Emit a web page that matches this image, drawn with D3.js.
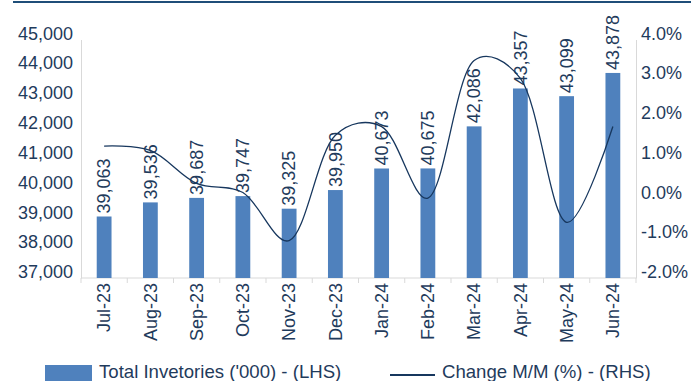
<!DOCTYPE html>
<html>
<head>
<meta charset="utf-8">
<script src="https://cdn.jsdelivr.net/npm/d3@7"></script>
<style>
  html, body { margin: 0; padding: 0; background: #ffffff; }
  svg { display: block; font-family: "Liberation Sans", Arial, sans-serif; }
</style>
</head>
<body>
<svg id="chart" width="691" height="381"></svg>
<script>
// Monthly inventory levels and month-on-month change
const months = ["Jul-23", "Aug-23", "Sep-23", "Oct-23", "Nov-23", "Dec-23",
                "Jan-24", "Feb-24", "Mar-24", "Apr-24", "May-24", "Jun-24"];
const inventories = [39063, 39536, 39687, 39747, 39325, 39950,
                     40673, 40675, 42086, 43357, 43099, 43878];
const changeMM = [1.32, 1.21, 0.38, 0.15, -1.06, 1.59,
                  1.81, 0.01, 3.47, 3.02, -0.60, 1.81];
const leftTicks = [37000, 38000, 39000, 40000, 41000, 42000, 43000, 44000, 45000];
const rightTicks = [-2, -1, 0, 1, 2, 3, 4];
const seriesNames = ["Total Invetories ('000) - (LHS)", "Change M/M (%) - (RHS)"];

const textColor = "#1f3b5c";
const barColor = "#4f81bd";
const lineColor = "#17375e";
const axisColor = "#d9d9d9";

const svg = d3.select("#chart");
const plot = { left: 81, right: 636, top: 39.5, bottom: 278 };

const x = d3.scaleBand().domain(months).range([plot.left, plot.right]).paddingInner(0.68).paddingOuter(0.34);
const yL = d3.scaleLinear().domain([37000, 45000]).range([plot.bottom, plot.top]);
const yR = d3.scaleLinear().domain([-2, 4]).range([plot.bottom, plot.top]);
const band = d3.scaleBand().domain(months).range([plot.left, plot.right]);

// percent labels with a plain hyphen for negatives
const pct = d => d3.format(".1f")(d).replace("\u2212", "-") + "%";

// top rule
svg.append("line")
  .attr("x1", 13).attr("x2", 691).attr("y1", 2).attr("y2", 2)
  .attr("stroke", "#1f4e79").attr("stroke-width", 2);

// left axis
const gL = svg.append("g").attr("transform", `translate(${plot.left},0)`)
  .call(d3.axisLeft(yL).tickValues(leftTicks).tickFormat(d3.format(",")).tickSize(0).tickPadding(8));
gL.select(".domain").attr("stroke", axisColor);
gL.selectAll("text").attr("fill", textColor).attr("font-size", 18)
  .attr("font-family", "Liberation Sans, Arial, sans-serif").attr("dy", "-0.02em");

// right axis
const gR = svg.append("g").attr("transform", `translate(${plot.right},0)`)
  .call(d3.axisRight(yR).tickValues(rightTicks).tickFormat(pct).tickSize(0).tickPadding(5));
gR.select(".domain").attr("stroke", axisColor);
gR.selectAll("text").attr("fill", textColor).attr("font-size", 18)
  .attr("font-family", "Liberation Sans, Arial, sans-serif").attr("dy", "-0.02em");

// bottom axis with ticks between categories
svg.append("line")
  .attr("x1", plot.left).attr("x2", plot.right).attr("y1", plot.bottom).attr("y2", plot.bottom)
  .attr("stroke", axisColor);
svg.append("g").selectAll("line")
  .data(months.concat(["end"]))
  .join("line")
  .attr("x1", (d, i) => plot.left + i * band.step())
  .attr("x2", (d, i) => plot.left + i * band.step())
  .attr("y1", plot.bottom).attr("y2", plot.bottom + 5)
  .attr("stroke", axisColor);

svg.append("g").selectAll("text")
  .data(months)
  .join("text")
  .attr("transform", d => `translate(${band(d) + band.bandwidth() / 2},${plot.bottom + 5}) rotate(-90)`)
  .attr("text-anchor", "end")
  .attr("dy", "0.35em")
  .attr("fill", textColor)
  .attr("font-size", 18)
  .text(d => d);

// bars
svg.append("g").selectAll("rect")
  .data(months)
  .join("rect")
  .attr("x", d => x(d))
  .attr("width", x.bandwidth())
  .attr("y", (d, i) => yL(inventories[i]))
  .attr("height", (d, i) => plot.bottom - yL(inventories[i]))
  .attr("fill", barColor);

// bar value labels
svg.append("g").selectAll("text")
  .data(months)
  .join("text")
  .attr("transform", (d, i) => `translate(${band(d) + band.bandwidth() / 2},${yL(inventories[i]) - 3}) rotate(-90)`)
  .attr("text-anchor", "start")
  .attr("dy", "0.35em")
  .attr("fill", textColor)
  .attr("font-size", 18)
  .text((d, i) => d3.format(",")(inventories[i]));

// smoothed change line
const line = d3.line()
  .x((d, i) => band(months[i]) + band.bandwidth() / 2)
  .y(d => yR(d))
  .curve(d3.curveCatmullRom.alpha(0.3));
svg.append("path")
  .datum(changeMM)
  .attr("d", line)
  .attr("fill", "none")
  .attr("stroke", lineColor)
  .attr("stroke-width", 1.3);

// legend
const lg = svg.append("g");
lg.append("rect").attr("x", 45).attr("y", 365).attr("width", 47).attr("height", 16).attr("fill", barColor);
lg.append("text").attr("x", 99).attr("y", 377.5).attr("fill", textColor).attr("font-size", 18.6).text(seriesNames[0]);
lg.append("line").attr("x1", 390).attr("x2", 435).attr("y1", 375).attr("y2", 375)
  .attr("stroke", lineColor).attr("stroke-width", 2);
lg.append("text").attr("x", 442).attr("y", 377.5).attr("fill", textColor).attr("font-size", 18.6).text(seriesNames[1]);
</script>
</body>
</html>
